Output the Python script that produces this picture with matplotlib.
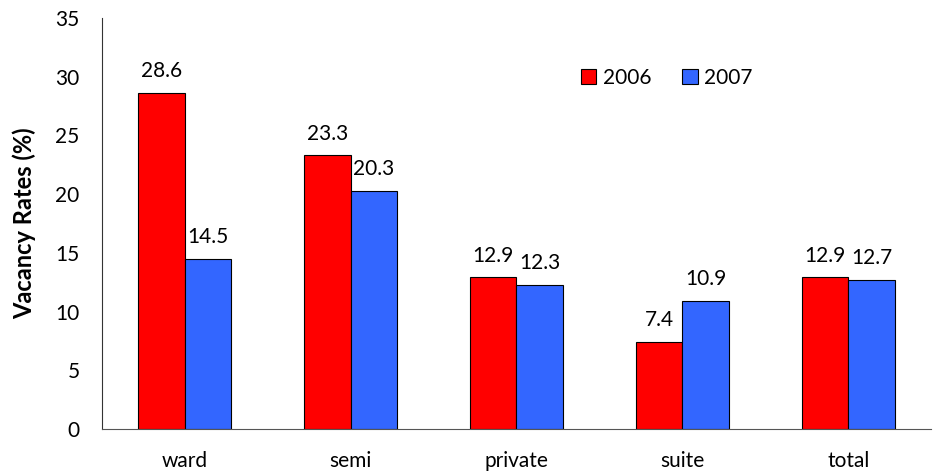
import matplotlib
matplotlib.use('Agg')
import matplotlib.pyplot as plt
import numpy as np

categories = ['ward', 'semi', 'private', 'suite', 'total']
rates_2006 = [28.6, 23.3, 12.9, 7.4, 12.9]
rates_2007 = [14.5, 20.3, 12.3, 10.9, 12.7]

plt.rcParams['font.family'] = ['Lato', 'DejaVu Sans']

fig = plt.figure(figsize=(9.33, 4.75), dpi=100)
ax = fig.add_axes([0.109, 0.097, 0.889, 0.865])

x = np.arange(len(categories))
w = 0.28
b1 = ax.bar(x - w / 2, rates_2006, w, color='#ff0000', edgecolor='black', linewidth=0.8, label='2006')
b2 = ax.bar(x + w / 2, rates_2007, w, color='#3366ff', edgecolor='black', linewidth=0.8, label='2007')

# value labels above bars
for bars in (b1, b2):
    for bar in bars:
        h = bar.get_height()
        ax.text(bar.get_x() + bar.get_width() / 2, h + 1.0, f'{h:.1f}',
                ha='center', va='bottom', fontsize=15)

ax.set_xlim(-0.5, len(categories) - 0.5)
ax.set_ylim(0, 35)
ax.set_yticks(range(0, 36, 5))
ax.set_xticks(x)
ax.set_xticklabels(categories)
ax.tick_params(axis='both', length=0, labelsize=15)
ax.tick_params(axis='x', pad=16)
ax.tick_params(axis='y', pad=16)
ax.set_ylabel('Vacancy Rates (%)', fontsize=17, fontweight='bold', labelpad=14)

for s in ('top', 'right'):
    ax.spines[s].set_visible(False)
ax.spines['left'].set_color('#333333')
ax.spines['bottom'].set_color('#555555')

ax.legend(loc='upper left', bbox_to_anchor=(0.555, 0.925), ncol=2, frameon=False,
          fontsize=15, handlelength=0.75, handleheight=0.75, handletextpad=0.3,
          columnspacing=1.5)

fig.savefig('out.png', dpi=100)
